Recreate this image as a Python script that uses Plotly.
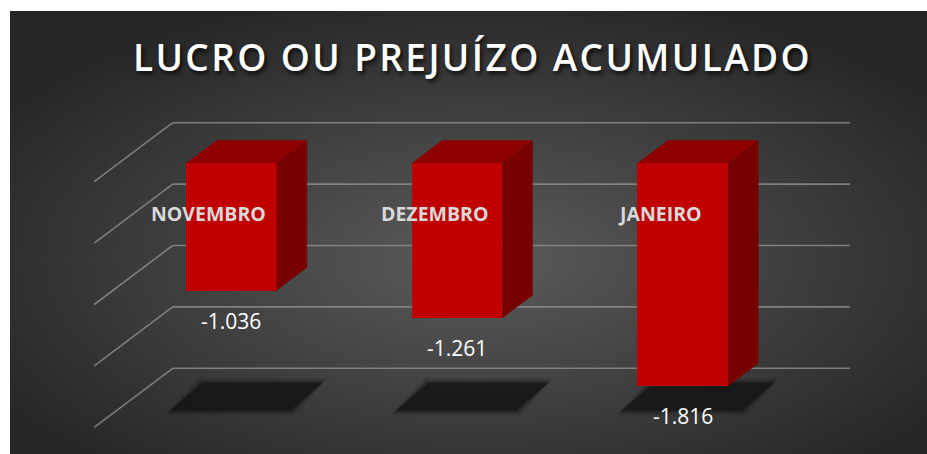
import base64
import plotly.graph_objects as go

# ---- data ----
categories = ["NOVEMBRO", "DEZEMBRO", "JANEIRO"]
values = [-1.036, -1.261, -1.816]
value_labels = ["-1.036", "-1.261", "-1.816"]
grid_values = [0, -0.5, -1, -1.5, -2]
title_text = "LUCRO OU PREJUÍZO ACUMULADO"

# ---- geometry / style constants (pixel scale of the 3D projection) ----
W, H = 927, 454
X0PX, XSTEP = 231.3, 225.7      # pixel of category 0 centre, pixels per category
Y0PX, YUNIT = 163.3, 122.8      # pixel of value 0, pixels per unit


def xd(px):
    return (px - X0PX) / XSTEP


def yd(py):
    return (Y0PX - py) / YUNIT


BAR_W = 90.5 / XSTEP
DEPTH_X = 30.5 / XSTEP
DEPTH_Y = 23.0 / YUNIT
WALL_DY = 40.6 / YUNIT
WALL_X0, WALL_X1 = xd(172.7), xd(850)
DIAG_DX = -78.5 / XSTEP
DIAG_DY = -59.0 / YUNIT

FRONT = "#C00000"
TOP = "#8E0000"
SIDE = "#790000"
GRID = "rgba(150,150,150,0.75)"

x_idx = list(range(len(categories)))

fig = go.Figure()
fig.add_trace(go.Bar(
    x=x_idx, y=values, width=BAR_W,
    marker=dict(color=FRONT, line=dict(width=0)),
    hoverinfo="skip", showlegend=False,
))

shapes = []

# back wall gridlines + side-wall diagonals
for g in grid_values:
    yy = g + WALL_DY
    shapes.append(dict(type="line", xref="x", yref="y", x0=WALL_X0, x1=WALL_X1,
                       y0=yy, y1=yy, line=dict(color=GRID, width=1.6), layer="below"))
    shapes.append(dict(type="line", xref="x", yref="y", x0=WALL_X0, x1=WALL_X0 + DIAG_DX,
                       y0=yy, y1=yy + DIAG_DY, line=dict(color=GRID, width=1.6), layer="below"))

# floor shadows (soft edges with stacked translucent layers)
SH_TOP, SH_BOT = yd(383), yd(410.5)
for i in x_idx:
    for grow, op in [(5, 0.12), (3, 0.2), (1.5, 0.35), (0, 0.7)]:
        gx = grow / XSTEP
        gy = grow / YUNIT
        tl = i + xd(X0PX - 28) - gx
        tr = i + xd(X0PX + 91) + gx
        bl = i + xd(X0PX - 61) - gx
        br = i + xd(X0PX + 59) + gx
        path = (f"M {tl},{SH_TOP + gy} L {tr},{SH_TOP + gy} "
                f"L {br},{SH_BOT - gy} L {bl},{SH_BOT - gy} Z")
        shapes.append(dict(type="path", xref="x", yref="y", path=path,
                           fillcolor="#141414", opacity=op, line=dict(width=0), layer="below"))

# 3D faces of bars (top and side)
for i, v in zip(x_idx, values):
    l, r = i - BAR_W / 2, i + BAR_W / 2
    top = (f"M {l},0 L {r},0 L {r + DEPTH_X},{DEPTH_Y} L {l + DEPTH_X},{DEPTH_Y} Z")
    side = (f"M {r},0 L {r + DEPTH_X},{DEPTH_Y} L {r + DEPTH_X},{v + DEPTH_Y} L {r},{v} Z")
    shapes.append(dict(type="path", xref="x", yref="y", path=top,
                       fillcolor=TOP, line=dict(width=0), layer="above"))
    shapes.append(dict(type="path", xref="x", yref="y", path=side,
                       fillcolor=SIDE, line=dict(width=0), layer="above"))

annotations = []
for i, c in zip(x_idx, categories):
    annotations.append(dict(x=i, y=0, xref="x", yref="y", text=c, showarrow=False,
                            xshift=-23, yshift=-49.7, yanchor="middle",
                            font=dict(family="Open Sans", size=19.5, color="#D9D9D9", weight="bold")))
for i, v, t in zip(x_idx, values, value_labels):
    annotations.append(dict(x=i, y=v, xref="x", yref="y", text=t, showarrow=False,
                            yshift=-30, yanchor="middle",
                            font=dict(family="Open Sans", size=21, color="#FFFFFF")))

svg = ("<svg xmlns='http://www.w3.org/2000/svg' width='917' height='443'>"
       "<defs><radialGradient id='g' cx='51%' cy='56%' r='62%'>"
       "<stop offset='0' stop-color='#5b5b5b'/><stop offset='1' stop-color='#262626'/>"
       "</radialGradient></defs><rect width='100%' height='100%' fill='url(#g)'/></svg>")
src = "data:image/svg+xml;base64," + base64.b64encode(svg.encode()).decode()

fig.update_layout(
    width=W, height=H,
    margin=dict(l=0, r=0, t=0, b=0),
    paper_bgcolor="#FFFFFF",
    plot_bgcolor="rgba(0,0,0,0)",
    shapes=shapes,
    annotations=annotations,
    images=[dict(source=src, xref="paper", yref="paper", x=10 / W, y=1 - 11 / H,
                 sizex=(W - 10) / W, sizey=(H - 11) / H, xanchor="left", yanchor="top",
                 sizing="stretch", layer="below")],
    title=dict(text=title_text, x=472.5 / W, y=1 - 58.5 / H, xanchor="center", yanchor="middle",
               font=dict(family="Open Sans", size=37, color="#FFFFFF", weight=600,
                         shadow="2px 3px 4px rgba(0,0,0,0.75)")),
    xaxis=dict(range=[xd(0), xd(W)], visible=False, fixedrange=True),
    yaxis=dict(range=[yd(H), yd(0)], visible=False, fixedrange=True),
    showlegend=False,
    bargap=0,
    hovermode=False,
)

post = ("document.body.style.margin='0';document.body.style.overflow='hidden';"
        "document.querySelectorAll('.gtitle').forEach(function(e){e.style.letterSpacing='2.4px';});")
fig.write_html("out.html", post_script=post, config={"displayModeBar": False, "staticPlot": True})
